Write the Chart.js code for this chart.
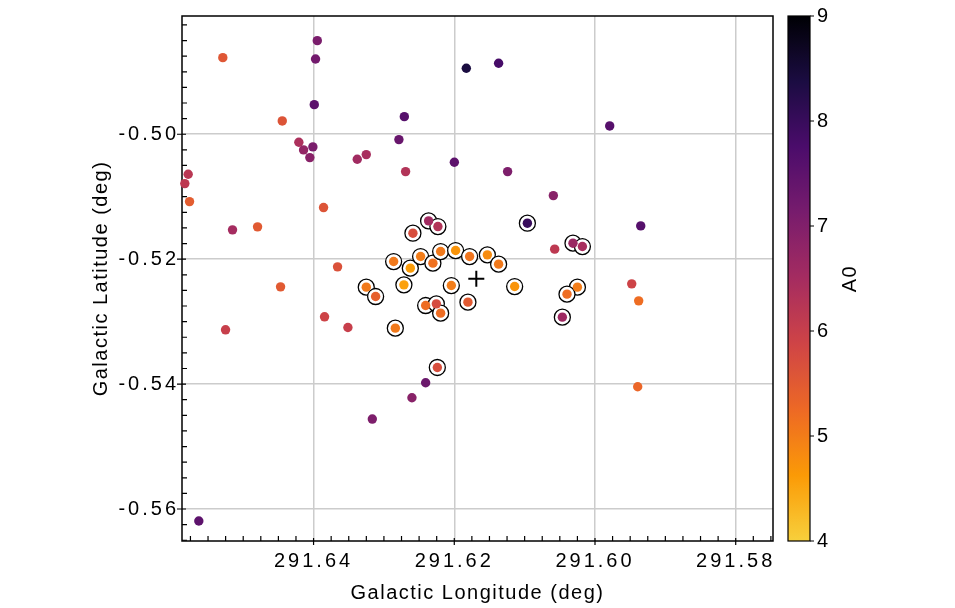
<!DOCTYPE html>
<html><head><meta charset="utf-8">
<script src="https://cdn.jsdelivr.net/npm/chart.js@4/dist/chart.umd.min.js"></script>
<style>html,body{margin:0;padding:0;background:#fff}</style>
</head><body>
<canvas id="c" width="955" height="608"></canvas>
<script>
// ---- data ----
const fieldLon = [291.65290,291.63947,291.63972,291.63990,291.61829,291.61370,291.64445,291.62710,291.59791,291.62787,
  291.64209,291.64142,291.64010,291.64053,291.63379,291.63251,291.61999,291.65782,291.65830,291.62692,
  291.61242,291.65763,291.60592,291.63858,291.59350,291.65152,291.64796,291.60573,291.63659,291.64469,
  291.59478,291.59379,291.65251,291.63844,291.63512,291.62407,291.62602,291.59393,291.63165,291.65631];
const fieldLat = [-0.48774,-0.48502,-0.48795,-0.49526,-0.48944,-0.48864,-0.49787,-0.49718,-0.49867,-0.50086,
  -0.50128,-0.50251,-0.50203,-0.50374,-0.50400,-0.50326,-0.50448,-0.50640,-0.50790,-0.50598,
  -0.50598,-0.51078,-0.50982,-0.51174,-0.51467,-0.51531,-0.51483,-0.51840,-0.52123,-0.52443,
  -0.52395,-0.52667,-0.53131,-0.52923,-0.53094,-0.53979,-0.54219,-0.54043,-0.54560,-0.56192];
const fieldA0 = [5.55,7.1,7.2,7.5,8.4,7.8,5.6,7.6,7.6,7.35,
  6.4,6.75,7.1,6.9,6.55,6.45,7.5,6.2,6.15,6.3,
  7.05,5.45,6.9,5.6,7.6,6.5,5.5,6.15,5.65,5.5,
  5.9,5.2,6.0,5.9,6.0,7.3,6.9,5.3,7.05,7.5];

const memberLon = [291.62365,291.62233,291.62588,291.60961,291.60313,291.60179,291.62862,291.62625,291.62479,291.62304,
  291.62194,291.61981,291.61782,291.61530,291.61370,291.62716,291.62042,291.61142,291.63251,291.63118,
  291.60250,291.60398,291.62407,291.62255,291.62194,291.61806,291.62838,291.60464,291.62241];
const memberLat = [-0.51387,-0.51478,-0.51584,-0.51424,-0.51744,-0.51798,-0.52038,-0.52144,-0.51958,-0.52064,
  -0.51878,-0.51862,-0.51958,-0.51931,-0.52080,-0.52411,-0.52422,-0.52438,-0.52448,-0.52598,
  -0.52448,-0.52560,-0.52742,-0.52715,-0.52864,-0.52688,-0.53104,-0.52928,-0.53734];
const memberA0 = [6.55,6.3,5.7,8.0,6.65,6.45,5.05,4.6,5.0,5.15,
  5.05,4.7,5.1,4.8,5.05,4.55,5.0,4.7,5.05,5.4,
  5.0,5.2,5.2,5.75,5.2,5.5,5.05,6.6,5.7];

const centerLon = [291.61687];
const centerLat = [-0.52315];

const xTickLabels = ['291.64','291.62','291.60','291.58'];
const yTickLabels = ['-0.50','-0.52','-0.54','-0.56'];
const cbTickLabels = ['4','5','6','7','8','9'];

const X_MIN = 291.5747, X_MAX = 291.6587;
const Y_MIN = -0.56512, Y_MAX = -0.48107;
const A0_MIN = 4, A0_MAX = 9;
const MINOR_STEP = 0.0025;

const INFERNO = ['#000004','#1B0C42','#4B0C6B','#781C6D','#A52C60','#CF4446','#ED6925','#FB9A06','#F7D03C','#FCFFA4'];

// ---- helpers ----
function hexRgb(h){return [parseInt(h.slice(1,3),16),parseInt(h.slice(3,5),16),parseInt(h.slice(5,7),16)];}
function a0Color(v){
  let pos = (A0_MAX - v)/(A0_MAX - A0_MIN)*8;
  pos = Math.max(0, Math.min(8, pos));
  const i = Math.min(7, Math.floor(pos)), f = pos - i;
  const a = hexRgb(INFERNO[i]), b = hexRgb(INFERNO[i+1]);
  const c = a.map((u,k)=>Math.round(u + (b[k]-u)*f));
  return 'rgb(' + c.join(',') + ')';
}
function isMajorIn(v, labels){ return labels.some(l => Math.abs(parseFloat(l) - v) < 1e-7); }
function labelIn(v, labels){ const l = labels.find(l => Math.abs(parseFloat(l) - v) < 1e-7); return l || ''; }
function buildTicks(min, max){
  const out = [];
  for (let k = Math.ceil(min/MINOR_STEP - 1e-9); k*MINOR_STEP <= max + 1e-12; k++) {
    out.push({value: +(k*MINOR_STEP).toFixed(6)});
  }
  return out;
}
const pts = (xs, ys) => xs.map((x,i)=>({x, y: ys[i]}));

const FONT = "'Liberation Sans', Arial, sans-serif";
const LS_TICK = '3px';
const LS_TITLE = '1.5px';

// titles use a narrower letter spacing than tick labels
const origDrawTitle = Chart.Scale.prototype.drawTitle;
Chart.Scale.prototype.drawTitle = function(){
  const ctx = this.ctx; const prev = ctx.letterSpacing;
  ctx.letterSpacing = LS_TITLE;
  origDrawTitle.apply(this, arguments);
  ctx.letterSpacing = prev;
};

const noPad = s => { s.paddingTop = 0; s.paddingBottom = 0; };

const decor = {
  id: 'decor',
  beforeUpdate(chart){ chart.ctx.letterSpacing = LS_TICK; },
  beforeLayout(chart){ chart.ctx.letterSpacing = LS_TICK; },
  beforeDraw(chart){ chart.ctx.letterSpacing = LS_TICK; },
  beforeDatasetsDraw(chart){
    const {ctx, chartArea: a, scales: {x, y}} = chart;
    ctx.save();
    ctx.strokeStyle = '#000';
    ctx.lineWidth = 1.5;
    ctx.strokeRect(a.left, a.top, a.right - a.left, a.bottom - a.top);
    ctx.lineWidth = 1.2;
    ctx.beginPath();
    x.ticks.forEach(t => {
      const px = x.getPixelForValue(t.value);
      if (isMajorIn(t.value, xTickLabels)) { ctx.moveTo(px, a.bottom - 3); ctx.lineTo(px, a.bottom + 4); }
      else { ctx.moveTo(px, a.bottom - 5); ctx.lineTo(px, a.bottom); }
    });
    y.ticks.forEach(t => {
      const py = y.getPixelForValue(t.value);
      if (isMajorIn(t.value, yTickLabels)) { ctx.moveTo(a.left - 5, py); ctx.lineTo(a.left + 4, py); }
      else { ctx.moveTo(a.left, py); ctx.lineTo(a.left + 5, py); }
    });
    ctx.stroke();
    ctx.restore();
  },
  afterDraw(chart){
    const {ctx, chartArea: a} = chart;
    const cb = chart.scales.cb;
    const top = cb.getPixelForValue(A0_MAX), bot = cb.getPixelForValue(A0_MIN);
    const x0 = a.right + 15, w = 22;
    ctx.save();
    const g = ctx.createLinearGradient(0, bot, 0, top);
    const N = 64;
    for (let k = 0; k <= N; k++) g.addColorStop(k/N, a0Color(A0_MIN + (A0_MAX - A0_MIN)*k/N));
    ctx.fillStyle = g;
    ctx.fillRect(x0, top, w, bot - top);
    ctx.strokeStyle = '#000';
    ctx.lineWidth = 1.2;
    ctx.strokeRect(x0, top, w, bot - top);
    ctx.beginPath();
    cb.ticks.forEach(t => {
      const py = cb.getPixelForValue(t.value);
      ctx.moveTo(x0 + w, py); ctx.lineTo(x0 + w + 4, py);
    });
    ctx.stroke();
    ctx.translate(a.right + 77, (top + bot)/2);
    ctx.rotate(-Math.PI/2);
    ctx.letterSpacing = LS_TITLE;
    ctx.font = '20px ' + FONT;
    ctx.fillStyle = '#000';
    ctx.textAlign = 'center';
    ctx.textBaseline = 'middle';
    ctx.fillText('A0', 0, 0);
    ctx.restore();
  }
};

const gridColor = (labels) => (c) => (c.tick && isMajorIn(c.tick.value, labels)) ? '#cccccc' : 'rgba(0,0,0,0)';

new Chart(document.getElementById('c'), {
  type: 'scatter',
  data: {
    datasets: [
      { label: 'center', data: pts(centerLon, centerLat), order: 0, pointStyle: 'cross',
        pointRadius: 8, pointBorderWidth: 2, pointBorderColor: '#000', clip: false },
      { label: 'members', data: pts(memberLon, memberLat), order: 1,
        pointRadius: 4.7, pointBorderWidth: 0, pointBackgroundColor: memberA0.map(a0Color), clip: false },
      { label: 'field', data: pts(fieldLon, fieldLat), order: 2,
        pointRadius: 4.7, pointBorderWidth: 0, pointBackgroundColor: fieldA0.map(a0Color), clip: false },
      { label: 'rings', data: pts(memberLon, memberLat), order: 3,
        pointRadius: 8, pointBorderWidth: 1.3, pointBorderColor: '#000', pointBackgroundColor: '#fff', clip: false }
    ]
  },
  options: {
    responsive: false,
    animation: false,
    events: [],
    layout: { padding: { top: 16, left: 0, right: 0, bottom: 0 } },
    plugins: { legend: { display: false }, tooltip: { enabled: false } },
    scales: {
      x: {
        type: 'linear', reverse: true, min: X_MIN, max: X_MAX,
        afterBuildTicks: s => { s.ticks = buildTicks(X_MIN, X_MAX); },
        afterFit: s => { s.height = 67; s.paddingLeft = 0; s.paddingRight = 0; },
        ticks: { autoSkip: false, maxRotation: 0, padding: 8, color: '#000',
          font: { family: FONT, size: 20 }, callback: v => labelIn(v, xTickLabels) },
        grid: { color: gridColor(xTickLabels), lineWidth: 1.5, drawTicks: false },
        border: { display: false },
        title: { display: true, text: 'Galactic Longitude (deg)', color: '#000',
          font: { family: FONT, size: 20 }, padding: { top: 0, bottom: 3 } }
      },
      y: {
        type: 'linear', min: Y_MIN, max: Y_MAX,
        afterBuildTicks: s => { s.ticks = buildTicks(Y_MIN, Y_MAX); },
        afterFit: s => { s.width = 182; noPad(s); },
        ticks: { autoSkip: false, padding: 3, color: '#000',
          font: { family: FONT, size: 20 }, callback: v => labelIn(v, yTickLabels) },
        grid: { color: gridColor(yTickLabels), lineWidth: 1.5, drawTicks: false },
        border: { display: false },
        title: { display: true, text: 'Galactic Latitude (deg)', color: '#000',
          font: { family: FONT, size: 20 }, padding: { top: 89, bottom: 0 } }
      },
      cb: {
        axis: 'y', type: 'linear', position: 'right', min: A0_MIN, max: A0_MAX,
        afterFit: s => { s.width = 182; noPad(s); },
        ticks: { stepSize: 1, padding: 44, color: '#000', font: { family: FONT, size: 20 },
          callback: v => cbTickLabels[Math.round(v - A0_MIN)] },
        grid: { drawOnChartArea: false, drawTicks: false },
        border: { display: false }
      }
    }
  },
  plugins: [decor]
});
</script>
</body></html>
